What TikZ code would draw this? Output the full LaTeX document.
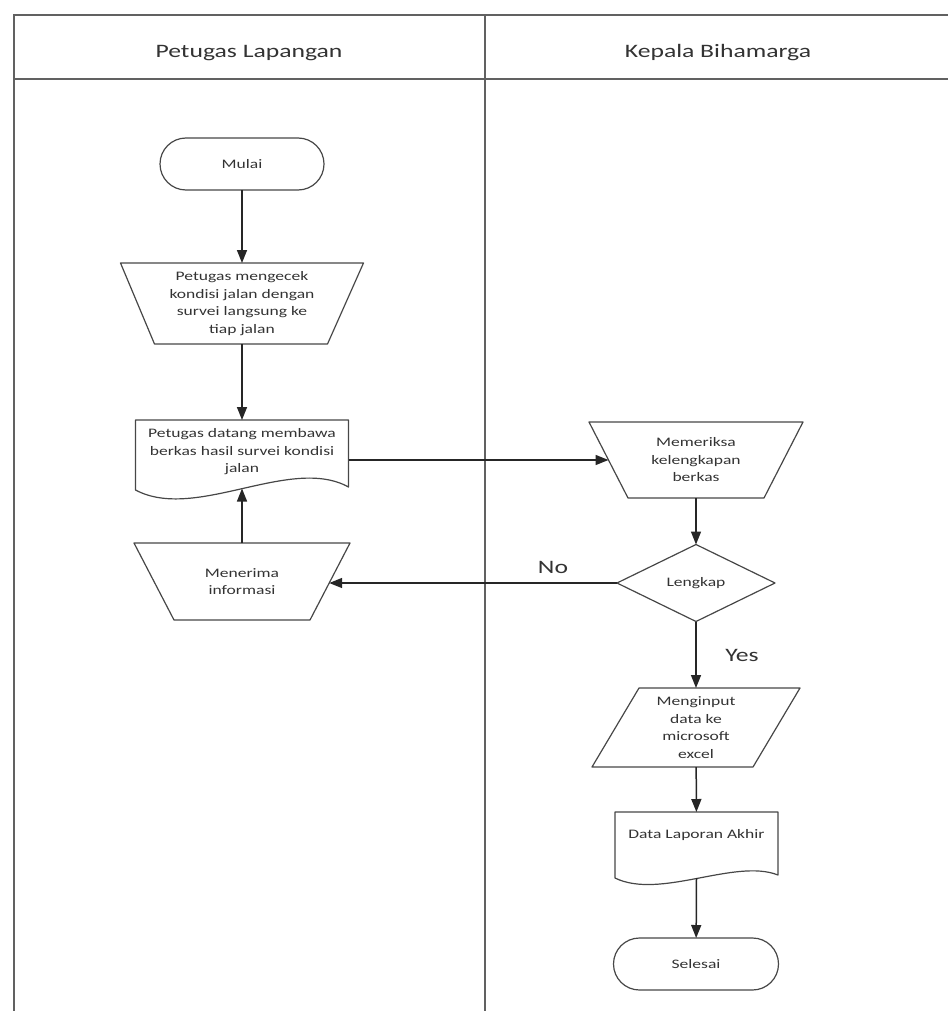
\documentclass[tikz,border=0pt]{standalone}
\usepackage{fontspec}
\setmainfont{Carlito}[FakeStretch=1.35]
\usetikzlibrary{arrows.meta,calc}

\begin{document}
\begin{tikzpicture}[x=1pt,y=-1pt,
  lane/.style={draw=black!62,line width=1.8pt},
  box/.style={draw=none,inner sep=0pt,outer sep=0pt,align=center,text=black!80,
    font=\fontsize{13}{17.5}\selectfont},
  outline/.style={draw=black!72,line width=1.2pt,line join=round},
  terminal/.style={box,draw=black!72,line width=1.2pt,rounded corners=26pt},
  flow/.style={draw=black!85,line width=1.5pt,-{Triangle[length=13pt,width=10pt]}},
  lanetitle/.style={font=\fontsize{19}{22}\selectfont,text=black!80},
  flowlabel/.style={font=\fontsize{19}{22}\selectfont,text=black!80}]

\useasboundingbox (0,0) rectangle (948,1011);

% swimlane frame
\draw[lane] (948,15) -- (14,15) -- (14,1011);
\draw[lane] (14,79) -- (948,79);
\draw[lane] (485,15) -- (485,1011);
\node[lanetitle] (laneA) at (249,53) {Petugas Lapangan};
\node[lanetitle] (laneB) at (718,53) {Kepala Bihamarga};

% ---- Petugas Lapangan ----
\node[terminal,minimum width=164pt,minimum height=52pt] (mulai) at (242,164) {Mulai};

\node[box,minimum width=243pt,minimum height=81pt] (cek) at (242,303.5)
  {Petugas mengecek\\kondisi jalan dengan\\survei langsung ke\\tiap jalan};
\draw[outline] (cek.north west) -- (cek.north east) -- ([xshift=-36pt]cek.south east)
  -- ([xshift=34pt]cek.south west) -- cycle;

\node[box,minimum width=213pt,minimum height=64pt] (datang) at (242,452)
  {Petugas datang membawa\\berkas hasil survei kondisi\\jalan};
\draw[outline] ([yshift=-6pt]datang.south west) -- (datang.north west) -- (datang.north east)
  -- ([yshift=-3pt]datang.south east)
  .. controls ([xshift=-58pt,yshift=29pt]datang.south east) and ([xshift=60pt,yshift=-38pt]datang.south west)
  .. ([yshift=-6pt]datang.south west) -- cycle;
\coordinate (datangR) at ($(datang.north east)!0.625!(datang.south east)$);
\coordinate (datangB) at ($(datang.south)+(0,4.5)$);

\node[box,minimum width=216pt,minimum height=77pt] (menerima) at (242,581.5)
  {Menerima\\informasi};
\draw[outline] (menerima.north west) -- (menerima.north east) -- ([xshift=-40pt]menerima.south east)
  -- ([xshift=40pt]menerima.south west) -- cycle;
\coordinate (menIn) at ($(menerima.north east)!0.52!([xshift=-40pt]menerima.south east)$);

% ---- Kepala Bihamarga ----
\node[box,minimum width=214pt,minimum height=76pt] (periksa) at (696,460)
  {Memeriksa\\kelengkapan\\berkas};
\draw[outline] (periksa.north west) -- (periksa.north east) -- ([xshift=-39pt]periksa.south east)
  -- ([xshift=39pt]periksa.south west) -- cycle;
\coordinate (periksaIn) at ($(periksa.north west)!0.5!([xshift=39pt]periksa.south west)$);

\node[box,minimum width=158pt,minimum height=77pt] (lengkap) at (696,583) {Lengkap};
\draw[outline] (lengkap.north) -- (lengkap.east) -- (lengkap.south) -- (lengkap.west) -- cycle;

\node[box,minimum width=208pt,minimum height=79pt] (input) at (696,727.5)
  {Menginput\\data ke\\microsoft\\excel};
\draw[outline] ([xshift=47pt]input.north west) -- (input.north east)
  -- ([xshift=-47pt]input.south east) -- (input.south west) -- cycle;

\node[box,minimum width=163pt,minimum height=46pt] (laporan) at (696.5,835) {Data Laporan Akhir};
\draw[outline] ([yshift=-20pt]laporan.south west) -- (laporan.north west) -- (laporan.north east)
  -- ([yshift=-17pt]laporan.south east)
  .. controls ([xshift=-43pt]laporan.south east) and ([xshift=45pt,yshift=-42pt]laporan.south west)
  .. ([yshift=-20pt]laporan.south west) -- cycle;
\coordinate (laporanB) at ($(laporan.south)+(0,20)$);

\node[terminal,minimum width=165pt,minimum height=52pt] (selesai) at (696,964) {Selesai};

% ---- connectors ----
\draw[flow] (mulai) -- (cek);
\draw[flow] (cek) -- (datang);
\draw[flow] (menerima) -- (datangB);
\draw[flow] (datangR) -- (datangR -| periksaIn);
\draw[flow] (periksa) -- (lengkap);
\draw[flow] (lengkap.west) -- (lengkap.west -| menIn);
\draw[flow] (lengkap) -- (input);
\draw[flow] (input) -- (laporan);
\draw[flow] (laporanB) -- (selesai);

\node[flowlabel] (no) at (553,567) {No};
\node[flowlabel] (yes) at (742,655) {Yes};
\end{tikzpicture}
\end{document}
